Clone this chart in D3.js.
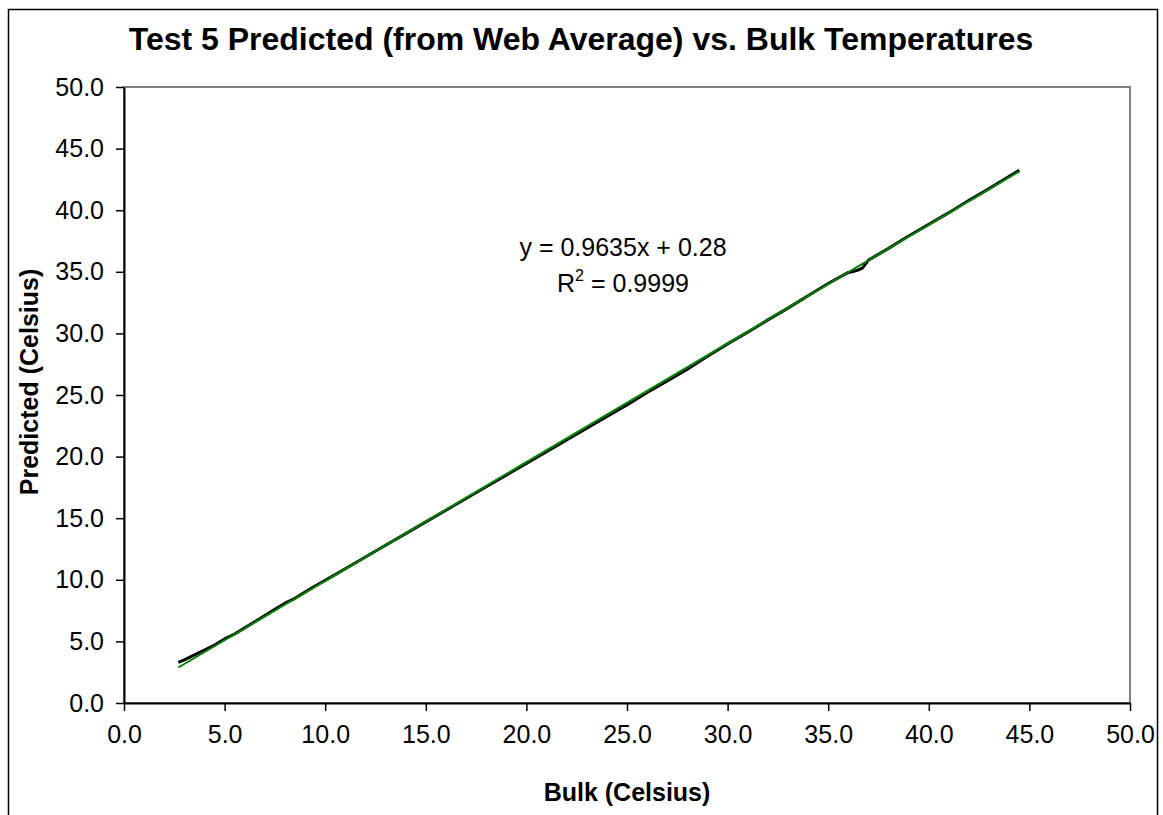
<!DOCTYPE html>
<html>
<head>
<meta charset="utf-8">
<script src="https://cdn.jsdelivr.net/npm/d3@7"></script>
<style>
  body { margin: 0; background: #fff; }
  text { font-family: "Liberation Sans", Arial, sans-serif; fill: #000; }
</style>
</head>
<body>
<svg id="chart" width="1163" height="815"></svg>
<script>
// bulk temperature (x) and predicted temperature (y)
const bulk = [2.7, 3.0, 3.5, 4.0, 4.5, 5.0, 5.5, 6.0, 6.5, 7.0, 7.5, 8.0, 8.5, 9.0, 9.5,
  10.0, 11.0, 12.0, 13.0, 14.0, 15.0, 16.0, 17.0, 18.0, 19.0, 20.0, 21.0, 22.0, 23.0,
  24.0, 25.0, 26.0, 27.0, 28.0, 29.0, 30.0, 31.0, 32.0, 33.0, 34.0, 35.0, 36.0, 36.3,
  36.5, 36.7, 37.0, 38.0, 39.0, 40.0, 41.0, 42.0, 43.0, 44.0, 44.5];
const predicted = [3.3, 3.5, 3.9, 4.3, 4.7, 5.2, 5.6, 6.1, 6.6, 7.1, 7.6, 8.1, 8.5, 9.0, 9.5,
  9.95, 10.9, 11.85, 12.8, 13.75, 14.7, 15.65, 16.6, 17.55, 18.5, 19.45, 20.4, 21.35, 22.3,
  23.25, 24.2, 25.2, 26.15, 27.1, 28.15, 29.15, 30.1, 31.1, 32.05, 33.05, 34.05, 34.95, 35.05,
  35.15, 35.3, 35.95, 36.9, 37.9, 38.85, 39.8, 40.8, 41.75, 42.75, 43.25];

// linear trendline shown on the chart
const slope = 0.9635;
const intercept = 0.28;
const equationLabel = "y = 0.9635x + 0.28";

const xTicks = [0, 5, 10, 15, 20, 25, 30, 35, 40, 45, 50];
const yTicks = [0, 5, 10, 15, 20, 25, 30, 35, 40, 45, 50];

const svg = d3.select("#chart");

// outer chart border
svg.append("rect")
  .attr("x", 8.5).attr("y", 9.5)
  .attr("width", 1149).attr("height", 820)
  .attr("fill", "#fff")
  .attr("stroke", "#000")
  .attr("stroke-width", 1.5);

const plot = { left: 124, top: 87, right: 1130, bottom: 703 };

const x = d3.scaleLinear().domain([0, 50]).range([plot.left, plot.right]);
const y = d3.scaleLinear().domain([0, 50]).range([plot.bottom, plot.top]);

// plot area frame (grey top/right)
svg.append("rect")
  .attr("x", plot.left).attr("y", plot.top)
  .attr("width", plot.right - plot.left).attr("height", plot.bottom - plot.top)
  .attr("fill", "#fff")
  .attr("stroke", "#808080")
  .attr("stroke-width", 2);

const xAxis = svg.append("g")
  .attr("transform", `translate(0,${plot.bottom})`)
  .call(d3.axisBottom(x).tickValues(xTicks).tickFormat(d3.format(".1f")).tickSize(8).tickSizeOuter(0).tickPadding(8));

const yAxis = svg.append("g")
  .attr("transform", `translate(${plot.left},0)`)
  .call(d3.axisLeft(y).tickValues(yTicks).tickFormat(d3.format(".1f")).tickSize(8).tickSizeOuter(0).tickPadding(12));

[xAxis, yAxis].forEach(g => {
  g.select(".domain").attr("stroke", "#000").attr("stroke-width", 2);
  g.selectAll(".tick line").attr("stroke", "#000").attr("stroke-width", 1.5);
  g.selectAll(".tick text")
    .style("font-family", "'Liberation Sans', Arial, sans-serif")
    .style("font-size", "25px")
    .attr("fill", "#000");
});
xAxis.selectAll(".tick text").attr("dy", "0.95em");

// data series
const points = bulk.map((b, i) => [b, predicted[i]]);
svg.append("path")
  .datum(points)
  .attr("fill", "none")
  .attr("stroke", "#000")
  .attr("stroke-width", 3)
  .attr("stroke-linejoin", "round")
  .attr("d", d3.line().x(d => x(d[0])).y(d => y(d[1])));

// trendline across the data range
const xMin = d3.min(bulk), xMax = d3.max(bulk);
svg.append("line")
  .attr("x1", x(xMin)).attr("y1", y(slope * xMin + intercept))
  .attr("x2", x(xMax)).attr("y2", y(slope * xMax + intercept))
  .attr("stroke", "#008000")
  .attr("stroke-width", 2);

// equation labels
svg.append("text")
  .attr("x", 623).attr("y", 256)
  .attr("text-anchor", "middle")
  .style("font-size", "25px")
  .text(equationLabel);

const r2 = svg.append("text")
  .attr("x", 623).attr("y", 292)
  .attr("text-anchor", "middle")
  .style("font-size", "25px");
r2.append("tspan").text("R");
r2.append("tspan").attr("dy", -11).style("font-size", "16px").text("2");
r2.append("tspan").attr("dy", 11).text(" = 0.9999");

// titles
svg.append("text")
  .attr("x", 581).attr("y", 50)
  .attr("text-anchor", "middle")
  .style("font-size", "32px")
  .style("font-weight", "bold")
  .text("Test 5 Predicted (from Web Average) vs. Bulk Temperatures");

svg.append("text")
  .attr("x", 627).attr("y", 801)
  .attr("text-anchor", "middle")
  .style("font-size", "25px")
  .style("font-weight", "bold")
  .text("Bulk (Celsius)");

svg.append("text")
  .attr("transform", "translate(38,382) rotate(-90)")
  .attr("text-anchor", "middle")
  .style("font-size", "25px")
  .style("font-weight", "bold")
  .text("Predicted (Celsius)");
</script>
</body>
</html>
